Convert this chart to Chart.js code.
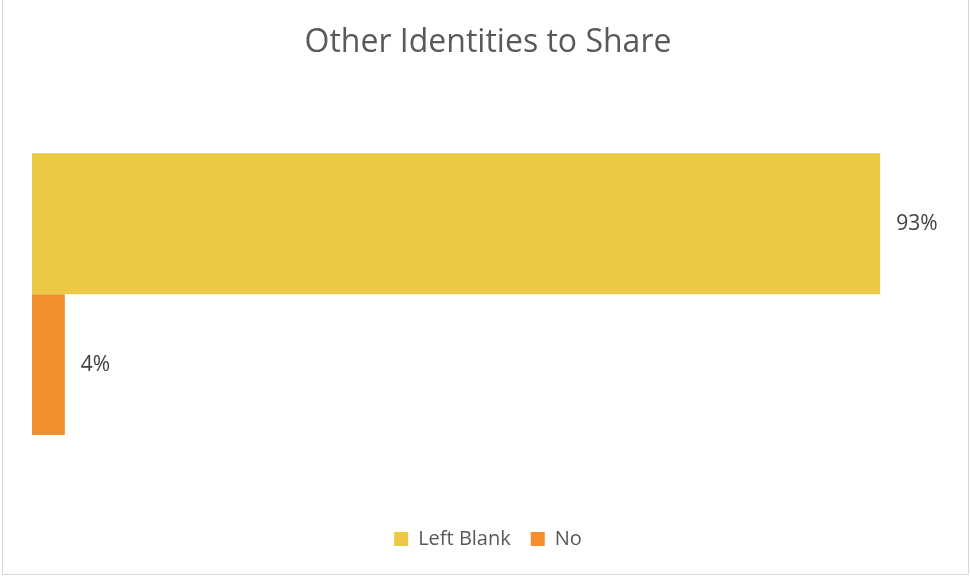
<!DOCTYPE html>
<html>
<head>
<meta charset="utf-8">
<script src="https://cdn.jsdelivr.net/npm/chart.js@4/dist/chart.umd.min.js"></script>
<style>
  html, body { margin: 0; padding: 0; background: #fff; }
  #box {
    position: absolute; left: 2px; top: 0; width: 965px; height: 574px;
    border: 1px solid #d9d9d9; border-top: none; background: #fff;
  }
  canvas { position: absolute; left: 0; top: 0; }
</style>
</head>
<body>
<div id="box"><canvas id="grafico" width="965" height="574"></canvas></div>
<script>
// dados
const categories = [""];
const seriesNames = ["Left Blank", "No"];
const leftBlank = [0.93];
const no = [0.036];
const colors = ["#EBC944", "#F28E2E"];

// rótulos de valor à direita de cada barra
const valueLabels = {
  id: "valueLabels",
  afterDatasetsDraw(chart) {
    const ctx = chart.ctx;
    ctx.save();
    ctx.font = "21px 'Open Sans', sans-serif";
    ctx.fillStyle = "#404040";
    ctx.textBaseline = "middle";
    chart.data.datasets.forEach((ds, i) => {
      chart.getDatasetMeta(i).data.forEach((bar, j) => {
        const txt = Math.round(ds.data[j] * 100) + "%";
        ctx.fillText(txt, bar.x + 16, bar.y);
      });
    });
    ctx.restore();
  },
};

new Chart(document.getElementById("grafico"), {
  type: "bar",
  data: {
    labels: categories,
    datasets: [
      { label: seriesNames[0], data: leftBlank, backgroundColor: colors[0] },
      { label: seriesNames[1], data: no, backgroundColor: colors[1] },
    ],
  },
  options: {
    indexAxis: "y",
    responsive: false,
    animation: false,
    categoryPercentage: 0.656,
    barPercentage: 1.0,
    layout: { padding: { left: 29, right: 24, top: 0, bottom: 15 } },
    scales: {
      x: { display: false, min: 0, max: 1 },
      y: { display: false },
    },
    plugins: {
      tooltip: { enabled: false },
      title: {
        display: true,
        text: "Other Identities to Share",
        color: "#595959",
        font: { family: "'Open Sans', sans-serif", size: 32, weight: "normal" },
        padding: { top: 24, bottom: 17 },
      },
      legend: {
        position: "bottom",
        labels: {
          color: "#595959",
          font: { family: "'Open Sans', sans-serif", size: 20 },
          boxWidth: 14,
          boxHeight: 14,
          padding: 20,
        },
      },
    },
  },
  plugins: [valueLabels],
});
</script>
</body>
</html>
